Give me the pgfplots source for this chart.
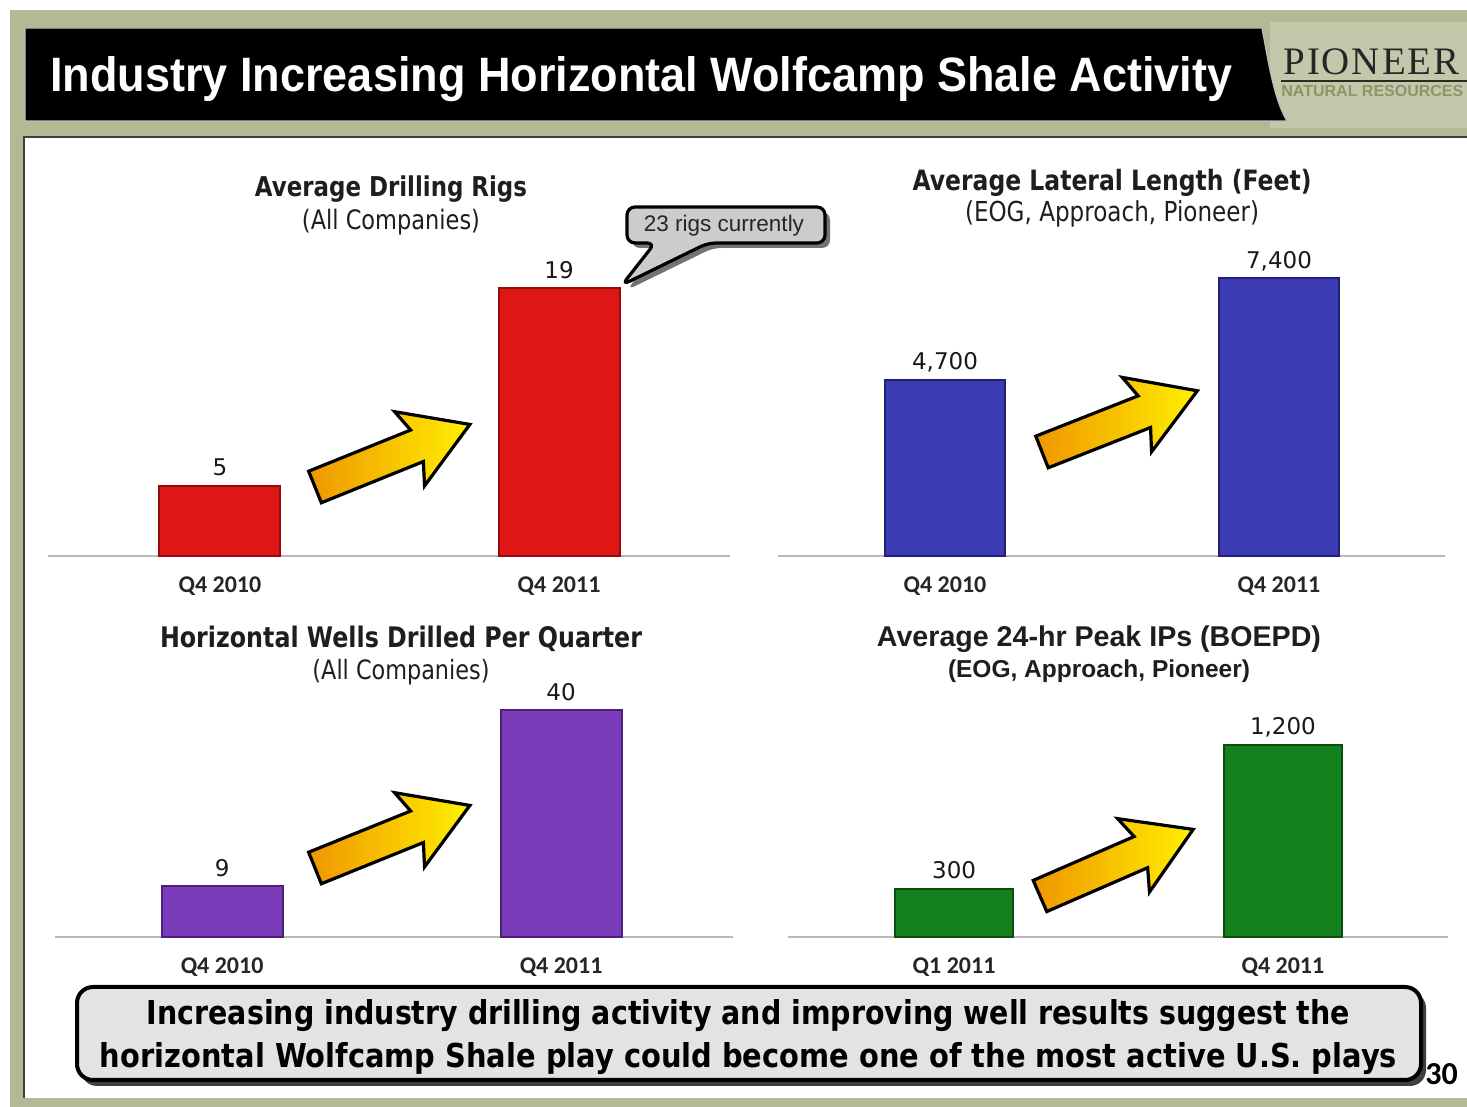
\documentclass[border=0pt]{standalone}
\usepackage{fontspec}
\usepackage{graphicx}
\usepackage{pgfplots}
\pgfplotsset{compat=1.18}
\setmainfont{DejaVu Sans}
\newfontfamily\dv{DejaVu Sans}
\newfontfamily\tah[FakeStretch=0.84]{DejaVu Sans}
\newfontfamily\lib{Liberation Sans}
\newfontfamily\carl{Carlito}
\newfontfamily\libser[LetterSpace=5]{Liberation Serif}
\newcommand{\fs}[1]{\fontsize{#1}{#1}\selectfont}
\definecolor{bggreen}{RGB}{180,185,149}
\definecolor{logobg}{RGB}{196,200,170}
\definecolor{redbar}{RGB}{222,22,22}
\definecolor{rededge}{RGB}{150,10,10}
\definecolor{bluebar}{RGB}{59,59,179}
\definecolor{blueedge}{RGB}{32,32,122}
\definecolor{purplebar}{RGB}{122,60,184}
\definecolor{purpleedge}{RGB}{75,31,122}
\definecolor{greenbar}{RGB}{20,128,30}
\definecolor{greenedge}{RGB}{10,79,16}
\definecolor{arrOrange}{RGB}{240,150,0}
\definecolor{arrYellow}{RGB}{255,240,0}
\definecolor{txt}{RGB}{30,30,30}
\definecolor{natres}{RGB}{140,148,108}
\newcommand{\bigarrow}[3]{%
\begin{scope}[shift={(#1,#2)}, rotate=#3]
\filldraw[draw=black, line width=1.6pt, line join=miter, left color=arrOrange, right color=arrYellow]
 (0,-17) -- (110,-17) -- (102,-40) -- (167,0) -- (102,40) -- (110,17) -- (0,17) -- cycle;
\end{scope}}
\pgfplotsset{slidebar/.style={
  ybar, scale only axis, anchor=south west,
  axis x line=bottom, axis y line=none,
  x axis line style={draw=gray!55, line width=1pt, -},
  ymin=0, xtick={0,1}, major tick length=0pt, ytick=\empty,
  xticklabel style={anchor=base, yshift=-18.5pt, font=\carl\bfseries\fs{12pt}, text=black!85},
  nodes near coords, point meta=explicit symbolic,
  nodes near coords style={anchor=base, yshift=5pt, font=\dv\fs{11.5pt}, text=black!90},
  clip=false,
}}
\begin{document}
\begin{tikzpicture}
\clip (0,0) rectangle (733.5pt,553.5pt);
\begin{scope}[yshift=553.5pt, x=0.5pt, y=-0.5pt]
\fill[white] (0,0) rectangle (1467,1107);
\fill[bggreen] (10,10) rectangle (1467,1107);
\fill[logobg] (1270,22) rectangle (1467,128);
% title band
\filldraw[fill=black, draw=white!75!black, line width=0.6pt] (25,28) -- (1262,28) .. controls (1268,60) and (1274,100) .. (1287,121) -- (25,121) -- cycle;
\node[anchor=base west, inner sep=0, white] at (50,92) {\resizebox{591pt}{17.5pt}{\lib\bfseries Industry Increasing Horizontal Wolfcamp Shale Activity}};
% logo
\node[anchor=base west, inner sep=0, text=black!85] at (1283,75) {\resizebox{88pt}{!}{\libser\fs{20pt}PIONEER}};
\draw[black!70!natres, line width=0.8pt] (1281,81) -- (1467,81);
\node[anchor=base west, inner sep=0, text=natres] at (1281,97) {\lib\bfseries\fs{8pt}NATURAL RESOURCES};
% white panel
\fill[white] (24,137) rectangle (1467,1098);
\draw[black!75, line width=1.2pt] (24,1098) -- (24,137) -- (1467,137);
% chart titles
\node[anchor=base, inner sep=0, text=txt] at (391,197) {\resizebox{136pt}{!}{\tah\bfseries Average Drilling Rigs}};
\node[anchor=base, inner sep=0, text=txt] at (391,230) {\resizebox{89pt}{!}{\tah (All Companies)}};
\node[anchor=base, inner sep=0, text=txt] at (1112,191) {\resizebox{199.5pt}{!}{\tah\bfseries Average Lateral Length (Feet)}};
\node[anchor=base, inner sep=0, text=txt] at (1112,222) {\resizebox{147pt}{!}{\tah (EOG, Approach, Pioneer)}};
\node[anchor=base, inner sep=0, text=txt] at (401,648) {\resizebox{241pt}{!}{\tah\bfseries Horizontal Wells Drilled Per Quarter}};
\node[anchor=base, inner sep=0, text=txt] at (401,680) {\resizebox{88.5pt}{!}{\tah (All Companies)}};
\node[anchor=base, inner sep=0, text=txt] at (1099,647) {\resizebox{222pt}{!}{\lib\bfseries Average 24-hr Peak IPs (BOEPD)}};
\node[anchor=base, inner sep=0, text=txt] at (1099,678) {\resizebox{151pt}{!}{\lib\bfseries (EOG, Approach, Pioneer)}};
% arrows
\bigarrow{315}{487}{22}
\bigarrow{1042}{452}{21.5}
\bigarrow{315}{868}{22}
\bigarrow{1040}{896}{23.5}
% callout
\fill[black!55, rounded corners=4pt] (632,212) -- (830,212) -- (830,248) -- (713,248) -- (627,290) -- (660,248) -- (632,248) -- cycle;
\filldraw[fill=gray!40, draw=black, line width=1.6pt, rounded corners=4pt] (627,207) -- (825,207) -- (825,243) -- (708,243) -- (622,285) -- (655,243) -- (627,243) -- cycle;
\node[anchor=base, inner sep=0, text=black!85] at (724,232) {\lib\fs{11.25pt}23 rigs currently};
% bottom box
\fill[black!75, rounded corners=8pt] (81,992) rectangle (1426,1086);
\filldraw[fill=gray!22, draw=black, line width=2pt, rounded corners=8pt] (77,987) rectangle (1421,1080);
\node[anchor=base, inner sep=0] at (748.5,1025) {\resizebox{601.5pt}{12.5pt}{\dv\bfseries Increasing industry drilling activity and improving well results suggest the}};
\node[anchor=base, inner sep=0] at (748.5,1068) {\resizebox{648.5pt}{12.5pt}{\dv\bfseries horizontal Wolfcamp Shale play could become one of the most active U.S. plays}};
\node[anchor=base west, inner sep=0] at (1425,1085) {\carl\bfseries\fs{16pt}30};
\end{scope}
% chart 1
\begin{axis}[slidebar, at={(24pt,275.5pt)}, width=341pt, height=148pt,
  xmin=-0.507, xmax=1.504, ymax=21, bar width=0.357, xticklabels={Q4 2010, Q4 2011}]
\addplot[fill=redbar, draw=rededge, line width=1pt] coordinates {(0,5) [5] (1,19) [19]};
\end{axis}
% chart 2
\begin{axis}[slidebar, at={(389pt,275.5pt)}, width=333.5pt, height=148pt,
  xmin=-0.5, xmax=1.497, ymax=7893, bar width=0.36, xticklabels={Q4 2010, Q4 2011}]
\addplot[fill=bluebar, draw=blueedge, line width=1pt] coordinates {(0,4700) [{4,700}] (1,7400) [{7,400}]};
\end{axis}
% chart 3
\begin{axis}[slidebar, at={(27.5pt,85pt)}, width=339pt, height=130pt,
  xmin=-0.493, xmax=1.507, ymax=45.9, bar width=0.357, xticklabels={Q4 2010, Q4 2011}]
\addplot[fill=purplebar, draw=purpleedge, line width=1pt] coordinates {(0,9) [9] (1,40) [40]};
\end{axis}
% chart 4
\begin{axis}[slidebar, at={(394pt,85pt)}, width=330pt, height=110pt,
  xmin=-0.505, xmax=1.502, ymax=1375, bar width=0.359, xticklabels={Q1 2011, Q4 2011}]
\addplot[fill=greenbar, draw=greenedge, line width=1pt] coordinates {(0,300) [300] (1,1200) [{1,200}]};
\end{axis}
\end{tikzpicture}
\end{document}
